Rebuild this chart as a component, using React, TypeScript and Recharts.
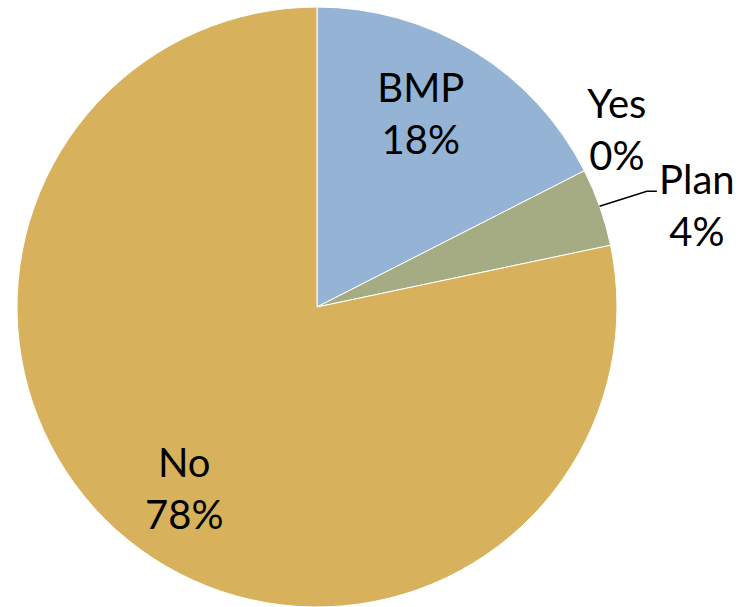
import React from 'react';
import { PieChart, Pie, Cell } from 'recharts';

// Survey answers, share of respondents (%)
const categories = ['BMP', 'Yes', 'Plan', 'No'];
const shares = [17.5, 0, 4.2, 78.3];
const colors = ['#95B4D5', '#C0504D', '#A5AB82', '#D8B15C'];

const data = categories.map((name, i) => ({ name, value: shares[i] }));

const RAD = Math.PI / 180;
const FONT = 'Lato, "Open Sans", sans-serif';

// where each label sits: fraction of radius, and angle nudge (deg)
const labelPlace: Record<string, { r: number; da: number }> = {
    BMP: { r: 0.73, da: 3.2 },
    Yes: { r: 1.16, da: 3.5 },
    Plan: { r: 1.31, da: -4.6 },
    No: { r: 0.75, da: 2.9 },
};

const renderLabel = (props: any) => {
    const { cx, cy, midAngle, outerRadius, name, percent } = props;
    const p = labelPlace[name];
    const a = (midAngle + p.da) * RAD;
    const x = cx + outerRadius * p.r * Math.cos(a);
    const y = cy - outerRadius * p.r * Math.sin(a);
    const pct = `${Math.round(percent * 100)}%`;

    let leader = null;
    if (name === 'Plan') {
        const a0 = (midAngle + 0.2) * RAD;
        const sx = cx + outerRadius * Math.cos(a0);
        const sy = cy - outerRadius * Math.sin(a0);
        leader = (
            <polyline
                points={`${sx},${sy} ${x - 50},${y - 15} ${x - 40},${y - 15}`}
                fill="none"
                stroke="#000"
                strokeWidth={1.5}
            />
        );
    }

    return (
        <g>
            {leader}
            <text x={x} y={y} textAnchor="middle" fontFamily={FONT} fontSize={40} fill="#000">
                <tspan x={x} dy={-12}>{name}</tspan>
                <tspan x={x} dy={52}>{pct}</tspan>
            </text>
        </g>
    );
};

export default function App() {
    return (
        <div style={{ position: 'absolute', left: 0, top: 0, width: 751, height: 607, background: '#fff' }}>
            <PieChart width={751} height={607} margin={{ top: 0, right: 0, bottom: 0, left: 0 }}>
                <Pie
                    data={data}
                    dataKey="value"
                    nameKey="name"
                    cx={317}
                    cy={307}
                    outerRadius={300}
                    startAngle={90}
                    endAngle={-270}
                    stroke="#fff"
                    strokeWidth={1}
                    label={renderLabel}
                    labelLine={false}
                    isAnimationActive={false}
                >
                    {data.map((d, i) => (
                        <Cell key={d.name} fill={colors[i]} />
                    ))}
                </Pie>
            </PieChart>
        </div>
    );
}
